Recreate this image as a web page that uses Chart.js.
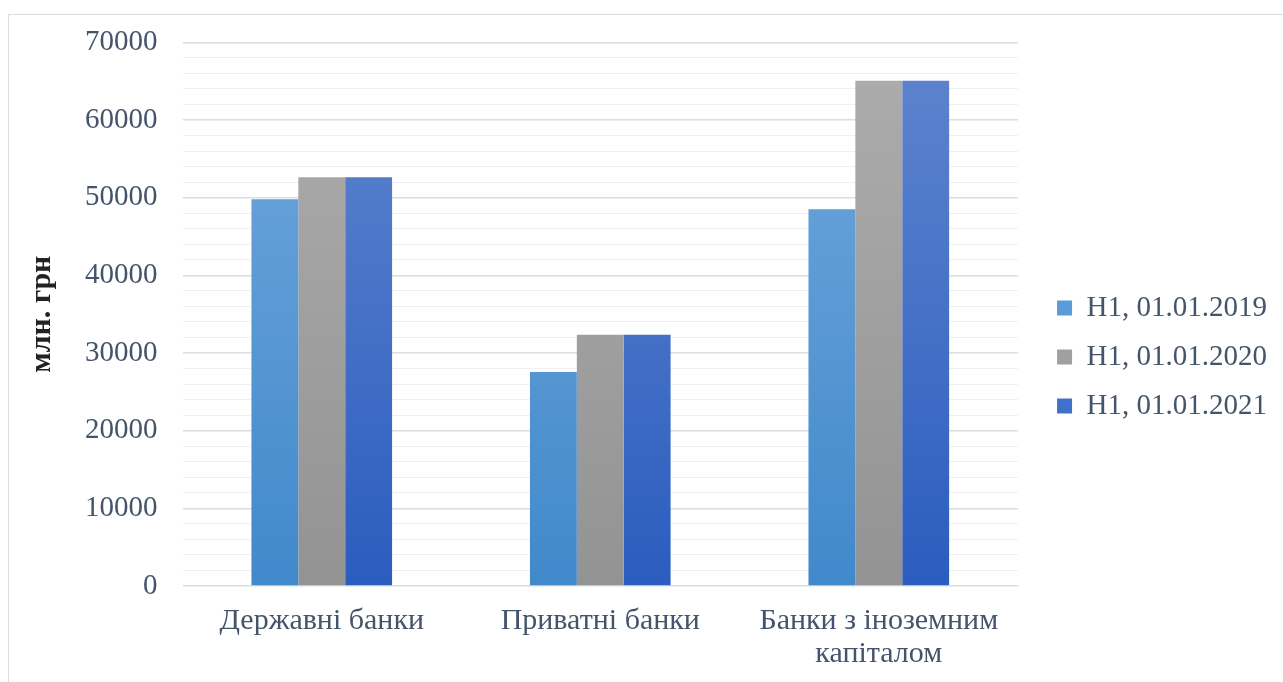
<!DOCTYPE html>
<html>
<head>
<meta charset="utf-8">
<script src="https://cdn.jsdelivr.net/npm/chart.js@4"></script>
<style>
  body { margin: 0; background: #fff; }
  #wrap { position: relative; width: 1283px; height: 682px; overflow: hidden; }
  #frame { position: absolute; left: 8px; top: 14px; width: 1400px; height: 800px; border: 1px solid #d9dde3; }
  canvas { position: absolute; left: 0; top: 0; }
</style>
</head>
<body>
<div id="wrap">
  <div id="frame"></div>
  <canvas id="bank-chart" width="1283" height="682"></canvas>
</div>
<script>
var categories = ['Державні банки', 'Приватні банки', ['Банки з іноземним', 'капіталом']];
var seriesNames = ['H1, 01.01.2019', 'H1, 01.01.2020', 'H1, 01.01.2021'];
var values2019 = [49800, 27550, 48500];
var values2020 = [52650, 32350, 65050];
var values2021 = [52650, 32350, 65050];
var yTicksMajor = [0, 10000, 20000, 30000, 40000, 50000, 60000, 70000];

var serif = "'Liberation Serif', 'Times New Roman', serif";
var textColor = '#44546a';

// excel-ish vertical gradient fills
function gradientFill(top, bottom) {
    return function (ctx) {
        var chart = ctx.chart;
        var area = chart.chartArea;
        if (!area) return top;
        var g = chart.ctx.createLinearGradient(0, area.top, 0, area.bottom);
        g.addColorStop(0, top);
        g.addColorStop(1, bottom);
        return g;
    };
}

function buildBankChart() {
    var ctx = document.getElementById('bank-chart').getContext('2d');

    new Chart(ctx, {
        type: 'bar',
        data: {
            labels: categories,
            datasets: [{
                label: seriesNames[0],
                data: values2019,
                backgroundColor: gradientFill('#72a8dc', '#4189cb')
            }, {
                label: seriesNames[1],
                data: values2020,
                backgroundColor: gradientFill('#adadad', '#939393')
            }, {
                label: seriesNames[2],
                data: values2021,
                backgroundColor: gradientFill('#6085ce', '#2b5dbf')
            }]
        },
        options: {
            responsive: false,
            animation: false,
            layout: { padding: { top: 32, right: 6, left: 24, bottom: 0 } },
            datasets: {
                bar: { categoryPercentage: 0.505, barPercentage: 1.0 }
            },
            plugins: {
                tooltip: { enabled: false },
                legend: {
                    position: 'right',
                    align: 'center',
                    labels: {
                        boxWidth: 15,
                        boxHeight: 15,
                        padding: 20,
                        color: textColor,
                        font: { family: serif, size: 29 },
                        generateLabels: function (chart) {
                            var fills = ['#5b9bd8', '#a0a0a0', '#4070c8'];
                            return chart.data.datasets.map(function (ds, i) {
                                return {
                                    text: ds.label,
                                    fillStyle: fills[i],
                                    strokeStyle: fills[i],
                                    lineWidth: 0,
                                    fontColor: textColor,
                                    datasetIndex: i
                                };
                            });
                        }
                    }
                }
            },
            scales: {
                x: {
                    grid: { display: false },
                    border: { display: false },
                    ticks: {
                        color: textColor,
                        padding: 11,
                        maxRotation: 0,
                        font: { family: serif, size: 30, lineHeight: 1.1 }
                    }
                },
                y: {
                    min: 0,
                    max: 70000,
                    border: { display: false },
                    grid: {
                        drawTicks: false,
                        color: function (c) {
                            return yTicksMajor.indexOf(c.tick.value) >= 0 ? '#d9dde4' : '#eef0f3';
                        },
                        lineWidth: function (c) {
                            return yTicksMajor.indexOf(c.tick.value) >= 0 ? 1.5 : 1;
                        }
                    },
                    ticks: {
                        stepSize: 2000,
                        autoSkip: false,
                        padding: 25,
                        color: textColor,
                        font: { family: serif, size: 29 },
                        callback: function (v) {
                            return yTicksMajor.indexOf(v) >= 0 ? String(v) : '';
                        }
                    },
                    title: {
                        display: true,
                        text: 'млн. грн',
                        color: '#222',
                        padding: { top: 0, bottom: 0 },
                        font: { family: serif, size: 30, weight: 'bold' }
                    }
                },
                // hidden spacer between plot and legend
                gap: {
                    position: 'right',
                    display: false,
                    afterFit: function (scale) { scale.width = 19; }
                }
            }
        }
    });
}

buildBankChart();
</script>
</body>
</html>
